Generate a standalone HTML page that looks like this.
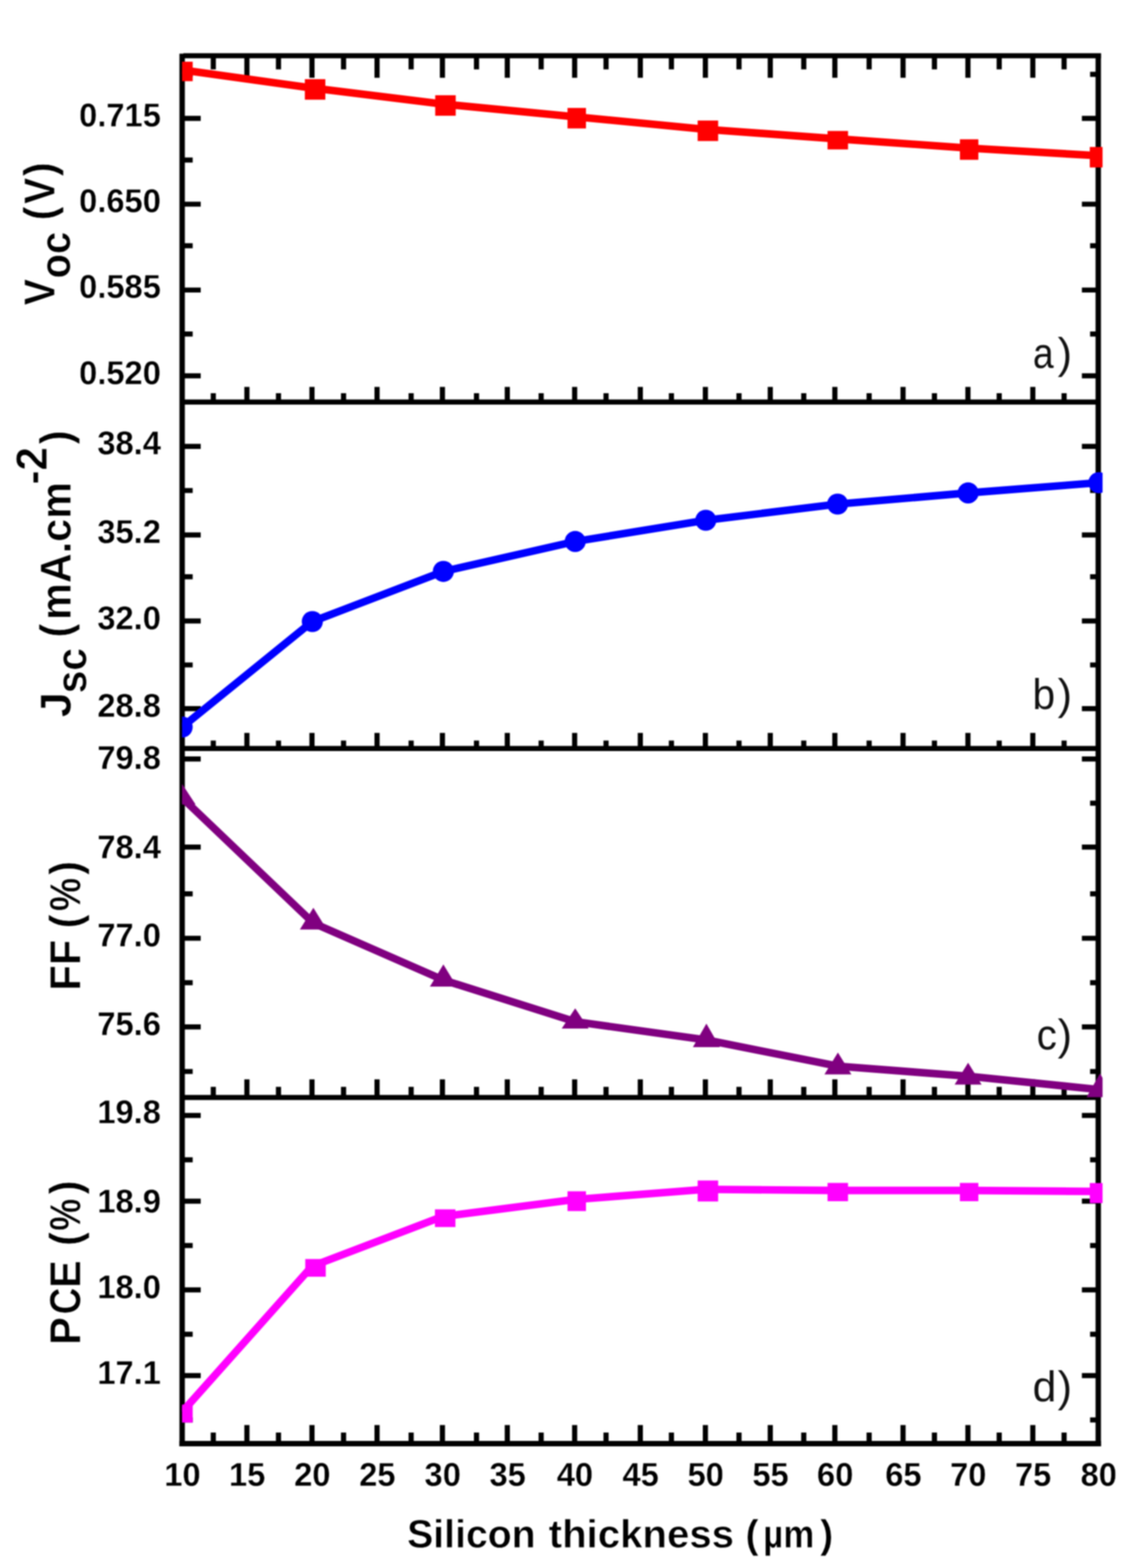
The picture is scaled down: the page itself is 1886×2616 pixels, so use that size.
<!DOCTYPE html>
<html lang="en"><head><meta charset="utf-8"><title>Silicon thickness</title>
<style>
html,body{margin:0;padding:0;background:#fff;}
body{width:1886px;height:2616px;overflow:hidden;}
svg{display:block;filter:blur(1.2px);}
text{font-family:"Liberation Sans",sans-serif;fill:#000;}
.b{font-weight:bold;}
.e1{stroke:#fff;stroke-width:0.4;stroke-linejoin:round;}
.e2{stroke:#fff;stroke-width:0.8;stroke-linejoin:round;}
.tk{font-size:54.5px;}
.yt{font-size:70px;}
.xt{font-size:66px;}
.pl{font-size:72px;fill:#111;}
.ax{stroke:#000;fill:none;stroke-linecap:butt;}
.ln{fill:none;stroke-width:12.6;stroke-linejoin:round;stroke-linecap:butt;}
</style></head><body>
<svg width="1886" height="2616" viewBox="0 0 1886 2616">
<rect x="0" y="0" width="1886" height="2616" fill="#fff"/>
<defs><clipPath id="cp"><rect x="303.8" y="60" width="1536.4" height="2400"/></clipPath></defs>
<g class="ax">
<path stroke-width="9" d="M304.0 89.4 V2413 M1833.0 89 V2413"/>
<path stroke-width="8.5" d="M306 93.0 H1837.5"/>
<path stroke-width="8.4" d="M304.0 670.7 H1833.0 M304.0 1248.8 H1833.0 M304.0 1831.0 H1833.0"/>
<path stroke-width="9" d="M299.5 2408.5 H1837.5"/>
<path stroke-width="8.6" d="M356 93.0 v22.8 M356 670.7 v-14.6 M356 1248.8 v-13.4 M356 1831.0 v-17.8 M356 2408.0 v-18 M412.1 93.0 v36.8 M412.1 670.7 v-25.3 M412.1 1248.8 v-26 M412.1 1831.0 v-30.3 M412.1 2408.0 v-30.6 M464.8 93.0 v22.8 M464.8 670.7 v-14.6 M464.8 1248.8 v-13.4 M464.8 1831.0 v-17.8 M464.8 2408.0 v-18 M520.7 93.0 v36.8 M520.7 670.7 v-25.3 M520.7 1248.8 v-26 M520.7 1831.0 v-30.3 M520.7 2408.0 v-30.6 M573.4 93.0 v22.8 M573.4 670.7 v-14.6 M573.4 1248.8 v-13.4 M573.4 1831.0 v-17.8 M573.4 2408.0 v-18 M629.3 93.0 v36.8 M629.3 670.7 v-25.3 M629.3 1248.8 v-26 M629.3 1831.0 v-30.3 M629.3 2408.0 v-30.6 M686.2 93.0 v22.8 M686.2 670.7 v-14.6 M686.2 1248.8 v-13.4 M686.2 1831.0 v-17.8 M686.2 2408.0 v-18 M738.4 93.0 v36.8 M738.4 670.7 v-25.3 M738.4 1248.8 v-26 M738.4 1831.0 v-30.3 M738.4 2408.0 v-30.6 M795.3 93.0 v22.8 M795.3 670.7 v-14.6 M795.3 1248.8 v-13.4 M795.3 1831.0 v-17.8 M795.3 2408.0 v-18 M846.7 93.0 v36.8 M846.7 670.7 v-25.3 M846.7 1248.8 v-26 M846.7 1831.0 v-30.3 M846.7 2408.0 v-30.6 M903.2 93.0 v22.8 M903.2 670.7 v-14.6 M903.2 1248.8 v-13.4 M903.2 1831.0 v-17.8 M903.2 2408.0 v-18 M959.1 93.0 v36.8 M959.1 670.7 v-25.3 M959.1 1248.8 v-26 M959.1 1831.0 v-30.3 M959.1 2408.0 v-30.6 M1011.5 93.0 v22.8 M1011.5 670.7 v-14.6 M1011.5 1248.8 v-13.4 M1011.5 1831.0 v-17.8 M1011.5 2408.0 v-18 M1068.7 93.0 v36.8 M1068.7 670.7 v-25.3 M1068.7 1248.8 v-26 M1068.7 1831.0 v-30.3 M1068.7 2408.0 v-30.6 M1120.6 93.0 v22.8 M1120.6 670.7 v-14.6 M1120.6 1248.8 v-13.4 M1120.6 1831.0 v-17.8 M1120.6 2408.0 v-18 M1177.3 93.0 v36.8 M1177.3 670.7 v-25.3 M1177.3 1248.8 v-26 M1177.3 1831.0 v-30.3 M1177.3 2408.0 v-30.6 M1233.4 93.0 v22.8 M1233.4 670.7 v-14.6 M1233.4 1248.8 v-13.4 M1233.4 1831.0 v-17.8 M1233.4 2408.0 v-18 M1285.6 93.0 v36.8 M1285.6 670.7 v-25.3 M1285.6 1248.8 v-26 M1285.6 1831.0 v-30.3 M1285.6 2408.0 v-30.6 M1341.5 93.0 v22.8 M1341.5 670.7 v-14.6 M1341.5 1248.8 v-13.4 M1341.5 1831.0 v-17.8 M1341.5 2408.0 v-18 M1393.4 93.0 v36.8 M1393.4 670.7 v-25.3 M1393.4 1248.8 v-26 M1393.4 1831.0 v-30.3 M1393.4 2408.0 v-30.6 M1450.6 93.0 v22.8 M1450.6 670.7 v-14.6 M1450.6 1248.8 v-13.4 M1450.6 1831.0 v-17.8 M1450.6 2408.0 v-18 M1507.2 93.0 v36.8 M1507.2 670.7 v-25.3 M1507.2 1248.8 v-26 M1507.2 1831.0 v-30.3 M1507.2 2408.0 v-30.6 M1559.6 93.0 v22.8 M1559.6 670.7 v-14.6 M1559.6 1248.8 v-13.4 M1559.6 1831.0 v-17.8 M1559.6 2408.0 v-18 M1615.5 93.0 v36.8 M1615.5 670.7 v-25.3 M1615.5 1248.8 v-26 M1615.5 1831.0 v-30.3 M1615.5 2408.0 v-30.6 M1667.7 93.0 v22.8 M1667.7 670.7 v-14.6 M1667.7 1248.8 v-13.4 M1667.7 1831.0 v-17.8 M1667.7 2408.0 v-18 M1723.8 93.0 v36.8 M1723.8 670.7 v-25.3 M1723.8 1248.8 v-26 M1723.8 1831.0 v-30.3 M1723.8 2408.0 v-30.6 M1776 93.0 v22.8 M1776 670.7 v-14.6 M1776 1248.8 v-13.4 M1776 1831.0 v-17.8 M1776 2408.0 v-18"/>
<path stroke-width="8.4" d="M304.0 124.0 h17.6 M1833.0 124.0 h-13.6 M304.0 197.5 h31 M1833.0 197.5 h-27.3 M304.0 267.0 h17.6 M1833.0 267.0 h-13.6 M304.0 340.6 h31 M1833.0 340.6 h-27.3 M304.0 410.0 h17.6 M1833.0 410.0 h-13.6 M304.0 483.9 h31 M1833.0 483.9 h-27.3 M304.0 557.3 h17.6 M1833.0 557.3 h-13.6 M304.0 627.0 h31 M1833.0 627.0 h-27.3 M304.0 744.8 h31 M1833.0 744.8 h-27.3 M304.0 818.4 h17.6 M1833.0 818.4 h-13.6 M304.0 892.5 h31 M1833.0 892.5 h-27.3 M304.0 962.3 h17.6 M1833.0 962.3 h-13.6 M304.0 1036.0 h31 M1833.0 1036.0 h-27.3 M304.0 1109.4 h17.6 M1833.0 1109.4 h-13.6 M304.0 1182.3 h31 M1833.0 1182.3 h-27.3 M304.0 1266.2 h31 M1833.0 1266.2 h-27.3 M304.0 1340.0 h17.6 M1833.0 1340.0 h-13.6 M304.0 1413.3 h31 M1833.0 1413.3 h-27.3 M304.0 1491.3 h17.6 M1833.0 1491.3 h-13.6 M304.0 1565.4 h31 M1833.0 1565.4 h-27.3 M304.0 1639.5 h17.6 M1833.0 1639.5 h-13.6 M304.0 1713.3 h31 M1833.0 1713.3 h-27.3 M304.0 1787.6 h17.6 M1833.0 1787.6 h-13.6 M304.0 1861.0 h31 M1833.0 1861.0 h-27.3 M304.0 1935.0 h17.6 M1833.0 1935.0 h-13.6 M304.0 2004.0 h31 M1833.0 2004.0 h-27.3 M304.0 2078.0 h17.6 M1833.0 2078.0 h-13.6 M304.0 2152.0 h31 M1833.0 2152.0 h-27.3 M304.0 2226.0 h17.6 M1833.0 2226.0 h-13.6 M304.0 2295.0 h31 M1833.0 2295.0 h-27.3 M304.0 2369.0 h17.6 M1833.0 2369.0 h-13.6"/>
</g>
<g clip-path="url(#cp)">
<polyline class="ln" stroke="#ff0000" points="304,116.7 520.7,146.7 738.4,173.5 959.1,194.7 1177.3,215.7 1393.4,231.4 1615.5,247 1833.2,259.8"/>
<rect x="287.4" y="102.95" width="34.2" height="32.5" fill="#ff0000"/>
<rect x="508.8" y="132.1" width="34.2" height="34.2" fill="#ff0000"/>
<rect x="726.4" y="158.9" width="34.2" height="34.2" fill="#ff0000"/>
<rect x="947.2" y="180.1" width="30.8" height="34.2" fill="#ff0000"/>
<rect x="1164.4" y="201.1" width="34.2" height="34.2" fill="#ff0000"/>
<rect x="1381.2" y="218.5" width="34.2" height="30.8" fill="#ff0000"/>
<rect x="1602.1" y="232.4" width="30.8" height="34.2" fill="#ff0000"/>
<rect x="1818.9" y="245.2" width="34.2" height="34.2" fill="#ff0000"/>
<polyline class="ln" stroke="#0000ff" points="304,1213 521.3,1037 740,953.3 960,903.4 1178,868 1398,841 1615.8,822.4 1834,805.3"/>
<circle cx="304" cy="1213" r="17.6" fill="#0000ff"/>
<circle cx="521.3" cy="1037" r="17.6" fill="#0000ff"/>
<circle cx="740" cy="953.3" r="17.6" fill="#0000ff"/>
<circle cx="960" cy="903.4" r="17.6" fill="#0000ff"/>
<circle cx="1178" cy="868" r="17.6" fill="#0000ff"/>
<circle cx="1398" cy="841" r="17.6" fill="#0000ff"/>
<circle cx="1615.8" cy="822.4" r="17.6" fill="#0000ff"/>
<circle cx="1834" cy="805.3" r="17.6" fill="#0000ff"/>
<polyline class="ln" stroke="#800080" points="304,1331 523,1540 740,1635 960,1704.5 1179,1735 1398.5,1778.7 1615.8,1795.5 1836,1818"/>
<polygon points="304,1307.9 281.5,1342.3 326.5,1342.3" fill="#800080"/>
<polygon points="523,1514.5 500.5,1550.7 545.5,1550.7" fill="#800080"/>
<polygon points="740,1608.9 717.5,1646 762.5,1646" fill="#800080"/>
<polygon points="960,1682.3 937.5,1716 982.5,1716" fill="#800080"/>
<polygon points="1179,1707.8 1156.5,1747 1201.5,1747" fill="#800080"/>
<polygon points="1398.5,1756 1376,1792.5 1421,1792.5" fill="#800080"/>
<polygon points="1615.8,1773 1593.3,1809.5 1638.3,1809.5" fill="#800080"/>
<polygon points="1836,1790.9 1813.5,1830.5 1858.5,1830.5" fill="#800080"/>
<polyline class="ln" stroke="#ff00ff" points="304,2355.7 520.7,2112.6 738.4,2029.7 959.1,2001.3 1177.3,1984.3 1393.4,1986.1 1615.5,1986.1 1833.2,1987.8"/>
<rect x="287.4" y="2343.4" width="34.2" height="30" fill="#ff00ff"/>
<rect x="509.5" y="2100.55" width="34.2" height="29.5" fill="#ff00ff"/>
<rect x="725.9" y="2017.65" width="34.2" height="29.5" fill="#ff00ff"/>
<rect x="947.2" y="1987.5" width="30.8" height="33" fill="#ff00ff"/>
<rect x="1164.4" y="1969.5" width="34.2" height="35" fill="#ff00ff"/>
<rect x="1381.2" y="1973.55" width="34.2" height="30.5" fill="#ff00ff"/>
<rect x="1602.1" y="1973.55" width="30.8" height="30.5" fill="#ff00ff"/>
<rect x="1818.9" y="1973.75" width="34.2" height="33.5" fill="#ff00ff"/>
</g>
<text class="b e1 tk" transform="translate(268.5,210.8) scale(1,1.01)" text-anchor="end">0.715</text>
<text class="b e1 tk" transform="translate(268.5,354.4) scale(1,1.01)" text-anchor="end">0.650</text>
<text class="b e1 tk" transform="translate(268.5,497) scale(1,1.01)" text-anchor="end">0.585</text>
<text class="b e1 tk" transform="translate(268.5,640.6) scale(1,1.01)" text-anchor="end">0.520</text>
<text class="b e1 tk" transform="translate(268.5,757.8) scale(1,1.01)" text-anchor="end">38.4</text>
<text class="b e1 tk" transform="translate(268.5,906.3) scale(1,1.01)" text-anchor="end">35.2</text>
<text class="b e1 tk" transform="translate(268.5,1049.8) scale(1,1.01)" text-anchor="end">32.0</text>
<text class="b e1 tk" transform="translate(268.5,1196.1) scale(1,1.01)" text-anchor="end">28.8</text>
<text class="b e1 tk" transform="translate(268.5,1282.9) scale(1,1.01)" text-anchor="end">79.8</text>
<text class="b e1 tk" transform="translate(268.5,1432.2) scale(1,1.01)" text-anchor="end">78.4</text>
<text class="b e1 tk" transform="translate(268.5,1578.5) scale(1,1.01)" text-anchor="end">77.0</text>
<text class="b e1 tk" transform="translate(268.5,1727.3) scale(1,1.01)" text-anchor="end">75.6</text>
<text class="b e1 tk" transform="translate(268.5,1873.6) scale(1,1.01)" text-anchor="end">19.8</text>
<text class="b e1 tk" transform="translate(268.5,2022.6) scale(1,1.01)" text-anchor="end">18.9</text>
<text class="b e1 tk" transform="translate(268.5,2165.6) scale(1,1.01)" text-anchor="end">18.0</text>
<text class="b e1 tk" transform="translate(268.5,2308.6) scale(1,1.01)" text-anchor="end">17.1</text>
<text class="b e1 tk" transform="translate(304.5,2478.8) scale(1,1.01)" text-anchor="middle">10</text>
<text class="b e1 tk" transform="translate(412.6,2478.8) scale(1,1.01)" text-anchor="middle">15</text>
<text class="b e1 tk" transform="translate(521.2,2478.8) scale(1,1.01)" text-anchor="middle">20</text>
<text class="b e1 tk" transform="translate(629.8,2478.8) scale(1,1.01)" text-anchor="middle">25</text>
<text class="b e1 tk" transform="translate(738.9,2478.8) scale(1,1.01)" text-anchor="middle">30</text>
<text class="b e1 tk" transform="translate(847.2,2478.8) scale(1,1.01)" text-anchor="middle">35</text>
<text class="b e1 tk" transform="translate(959.6,2478.8) scale(1,1.01)" text-anchor="middle">40</text>
<text class="b e1 tk" transform="translate(1069.2,2478.8) scale(1,1.01)" text-anchor="middle">45</text>
<text class="b e1 tk" transform="translate(1177.8,2478.8) scale(1,1.01)" text-anchor="middle">50</text>
<text class="b e1 tk" transform="translate(1286.1,2478.8) scale(1,1.01)" text-anchor="middle">55</text>
<text class="b e1 tk" transform="translate(1393.9,2478.8) scale(1,1.01)" text-anchor="middle">60</text>
<text class="b e1 tk" transform="translate(1507.7,2478.8) scale(1,1.01)" text-anchor="middle">65</text>
<text class="b e1 tk" transform="translate(1616,2478.8) scale(1,1.01)" text-anchor="middle">70</text>
<text class="b e1 tk" transform="translate(1724.3,2478.8) scale(1,1.01)" text-anchor="middle">75</text>
<text class="b e1 tk" transform="translate(1833.7,2478.8) scale(1,1.01)" text-anchor="middle">80</text>
<text class="b e2 xt" y="2582"><tspan x="679.41" textLength="214.65" lengthAdjust="spacingAndGlyphs">Silicon</tspan><tspan x="897.26" textLength="327.79" lengthAdjust="spacingAndGlyphs"> thickness</tspan><tspan x="1225.81"> (</tspan><tspan x="1273.69" textLength="85.43" lengthAdjust="spacingAndGlyphs">µm</tspan><tspan x="1368.67">)</tspan></text>
<text class="b e2 yt" transform="translate(91,512) rotate(-90) scale(1,1.04)"><tspan x="2.85" textLength="43.8" lengthAdjust="spacingAndGlyphs">V</tspan><tspan x="47.39" dy="24.52" textLength="77.86" lengthAdjust="spacingAndGlyphs">oc</tspan><tspan x="124.84" dy="-24.52"> (</tspan><tspan x="171.85" textLength="43.59" lengthAdjust="spacingAndGlyphs">V</tspan><tspan x="218">)</tspan></text>
<text class="b e2 yt" transform="translate(117.5,1199) rotate(-90) scale(1,1.04)"><tspan x="2.16" textLength="42.01" lengthAdjust="spacingAndGlyphs">J</tspan><tspan x="42.2" dy="25.48" textLength="75.79" lengthAdjust="spacingAndGlyphs">sc</tspan><tspan x="115.84" dy="-25.48"> (</tspan><tspan x="164.85" textLength="229.92" lengthAdjust="spacingAndGlyphs">mA.cm</tspan><tspan x="390.67" dy="-37.98" textLength="62.24" lengthAdjust="spacingAndGlyphs">-2</tspan><tspan x="457.8" dy="37.98">)</tspan></text>
<text class="b e2 yt" transform="translate(133.5,1650) rotate(-90) scale(1,1.04)"><tspan x="-2.64" textLength="84.78" lengthAdjust="spacingAndGlyphs">FF</tspan><tspan x="81.49"> (</tspan><tspan x="129.95" textLength="55.5" lengthAdjust="spacingAndGlyphs">%</tspan><tspan x="190.25">)</tspan></text>
<text class="b e2 yt" transform="translate(133.5,2241) rotate(-90) scale(1,1.04)"><tspan x="-2.65" textLength="46.32" lengthAdjust="spacingAndGlyphs">P</tspan><tspan x="48.18" textLength="44.4" lengthAdjust="spacingAndGlyphs">C</tspan><tspan x="92.37" textLength="46.13" lengthAdjust="spacingAndGlyphs">E</tspan><tspan x="142.69"> (</tspan><tspan x="187.81" textLength="53.38" lengthAdjust="spacingAndGlyphs">%</tspan><tspan x="248.25">)</tspan></text>
<text class="pl" y="614"><tspan x="1723.96" textLength="34.54" lengthAdjust="spacingAndGlyphs">a</tspan><tspan x="1765.33">)</tspan></text>
<text class="pl" y="1182.7"><tspan x="1723.13" textLength="37.72" lengthAdjust="spacingAndGlyphs">b</tspan><tspan x="1765.33">)</tspan></text>
<text class="pl" y="1750.5"><tspan x="1730.14" textLength="33.63" lengthAdjust="spacingAndGlyphs">c</tspan><tspan x="1765.33">)</tspan></text>
<text class="pl" y="2338.3"><tspan x="1723.51" textLength="39.57" lengthAdjust="spacingAndGlyphs">d</tspan><tspan x="1765.33">)</tspan></text>
</svg>
</body></html>
